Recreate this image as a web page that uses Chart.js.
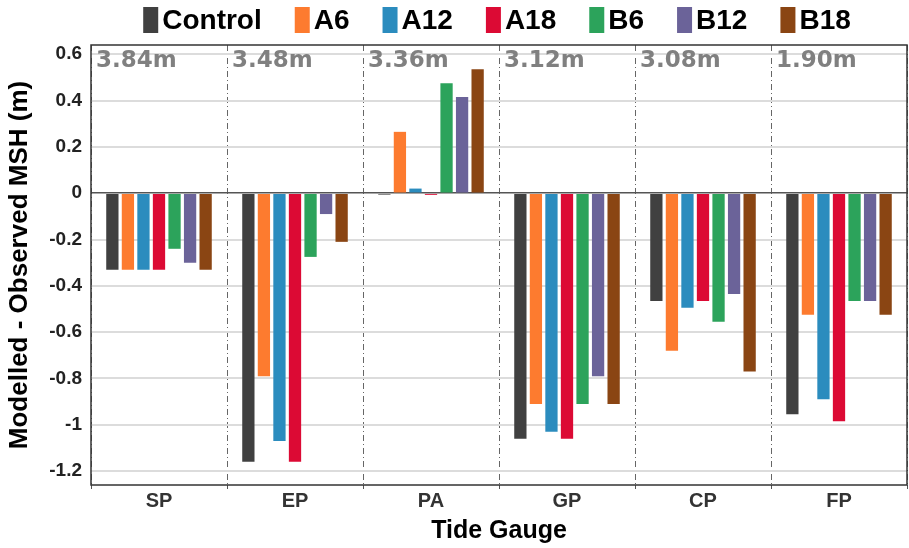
<!DOCTYPE html>
<html>
<head>
<meta charset="utf-8">
<script src="https://cdn.jsdelivr.net/npm/chart.js@4"></script>
<style>
  html, body { margin: 0; padding: 0; background: #fff; }
  #wrap { width: 909px; height: 548px; }
</style>
</head>
<body>
<div id="wrap"><canvas id="chart" width="909" height="548"></canvas></div>
<script>
// tide gauges
const gauges = ['SP', 'EP', 'PA', 'GP', 'CP', 'FP']
// tidal range written at the top of each gauge
const ranges = ['3.84m', '3.48m', '3.36m', '3.12m', '3.08m', '1.90m']

// modelled - observed MSH (m), one value per gauge
const control = [-0.33, -1.16, -0.006, -1.06, -0.465, -0.955]
const a6 = [-0.33, -0.79, 0.265, -0.91, -0.68, -0.525]
const a12 = [-0.33, -1.07, 0.02, -1.03, -0.495, -0.89]
const a18 = [-0.33, -1.16, -0.007, -1.06, -0.465, -0.985]
const b6 = [-0.24, -0.275, 0.475, -0.91, -0.555, -0.465]
const b12 = [-0.30, -0.09, 0.415, -0.79, -0.435, -0.465]
const b18 = [-0.33, -0.21, 0.535, -0.91, -0.77, -0.525]

const yTicks = [-1.2, -1, -0.8, -0.6, -0.4, -0.2, 0, 0.2, 0.4, 0.6]

const FONT = '"Liberation Sans", Arial, sans-serif'

function ds(label, data, color) {
    return {
        label: label,
        data: data,
        backgroundColor: color,
        borderWidth: 0,
        categoryPercentage: 0.8,
        barPercentage: 0.79
    }
}

// legend drawn by hand: tall thin boxes, text close to the box
const legendPlugin = {
    id: 'topLegend',
    afterDraw(chart) {
        const ctx = chart.ctx
        const area = chart.chartArea
        ctx.save()
        ctx.font = 'bold 28px ' + FONT
        ctx.textBaseline = 'middle'
        const boxW = 15, boxH = 26, gapBox = 4, gapItem = 33
        const items = chart.data.datasets.map(d => ({
            label: d.label, color: d.backgroundColor, w: ctx.measureText(d.label).width
        }))
        let total = items.reduce((s, it) => s + boxW + gapBox + it.w, 0) + gapItem * (items.length - 1)
        let x = (area.left + area.right) / 2 - 2 - total / 2
        items.forEach(it => {
            ctx.fillStyle = it.color
            ctx.fillRect(x, 7, boxW, boxH)
            ctx.fillStyle = '#000'
            ctx.fillText(it.label, x + boxW + gapBox, 21)
            x += boxW + gapBox + it.w + gapItem
        })
        ctx.restore()
    }
}

// frame round the plot and the tidal range labels
const framePlugin = {
    id: 'frame',
    afterDatasetsDraw(chart) {
        const ctx = chart.ctx
        const a = chart.chartArea
        const xs = chart.scales.x
        const step = xs.width / gauges.length
        ctx.save()
        ctx.strokeStyle = '#333'
        ctx.lineWidth = 1.5
        ctx.strokeRect(a.left, a.top, a.right - a.left, a.bottom - a.top)
        ctx.font = 'bold 23px "DejaVu Sans", sans-serif'
        ctx.fillStyle = '#808080'
        ctx.textBaseline = 'top'
        ranges.forEach((r, i) => {
            ctx.fillText(r, xs.getPixelForValue(i) - step / 2 + 5, a.top + 5)
        })
        ctx.restore()
    }
}

document.addEventListener('DOMContentLoaded', function () {
    const config = {
        type: 'bar',
        data: {
            labels: gauges,
            datasets: [
                ds('Control', control, '#404040'),
                ds('A6', a6, '#fd7b2f'),
                ds('A12', a12, '#2b8cbe'),
                ds('A18', a18, '#dc0a34'),
                ds('B6', b6, '#2ca35b'),
                ds('B12', b12, '#6b6399'),
                ds('B18', b18, '#8a4513')
            ]
        },
        options: {
            responsive: false,
            animation: false,
            layout: { padding: { top: 45, right: 2, left: 0, bottom: 0 } },
            plugins: {
                legend: { display: false },
                tooltip: { enabled: false }
            },
            scales: {
                x: {
                    offset: true,
                    grid: {
                        offset: true,
                        color: '#666',
                        lineWidth: 1,
                        drawTicks: true,
                        tickLength: 4,
                        tickColor: '#555'
                    },
                    border: { display: false, dash: [6, 3, 1, 3] },
                    ticks: {
                        color: '#333',
                        font: { family: FONT, size: 20, weight: 'bold' },
                        padding: 0
                    },
                    title: {
                        display: true,
                        text: 'Tide Gauge',
                        color: '#000',
                        font: { family: FONT, size: 25, weight: 'bold' },
                        padding: { top: 0, bottom: 2 }
                    },
                    afterFit(scale) { scale.height = 63 }
                },
                y: {
                    min: -1.26,
                    max: 0.64,
                    afterBuildTicks(scale) {
                        scale.ticks = yTicks.map(v => ({ value: v }))
                    },
                    grid: {
                        drawTicks: false,
                        color: ctx => ctx.tick && ctx.tick.value === 0 ? '#555' : '#dcdcdc',
                        lineWidth: ctx => ctx.tick && ctx.tick.value === 0 ? 1.5 : 2
                    },
                    border: { display: false },
                    ticks: {
                        color: '#222',
                        font: { family: FONT, size: 19, weight: 'bold' },
                        padding: 9,
                        callback: v => String(Number(v.toFixed(1)))
                    },
                    title: {
                        display: true,
                        text: 'Modelled - Observed MSH (m)',
                        color: '#000',
                        font: { family: FONT, size: 26, weight: 'bold' },
                        padding: { top: 4, bottom: 0 }
                    },
                    afterFit(scale) { scale.width = 91 }
                }
            }
        },
        plugins: [framePlugin, legendPlugin]
    }

    const ctx = document.getElementById('chart').getContext('2d')
    new Chart(ctx, config)
})
</script>
</body>
</html>
